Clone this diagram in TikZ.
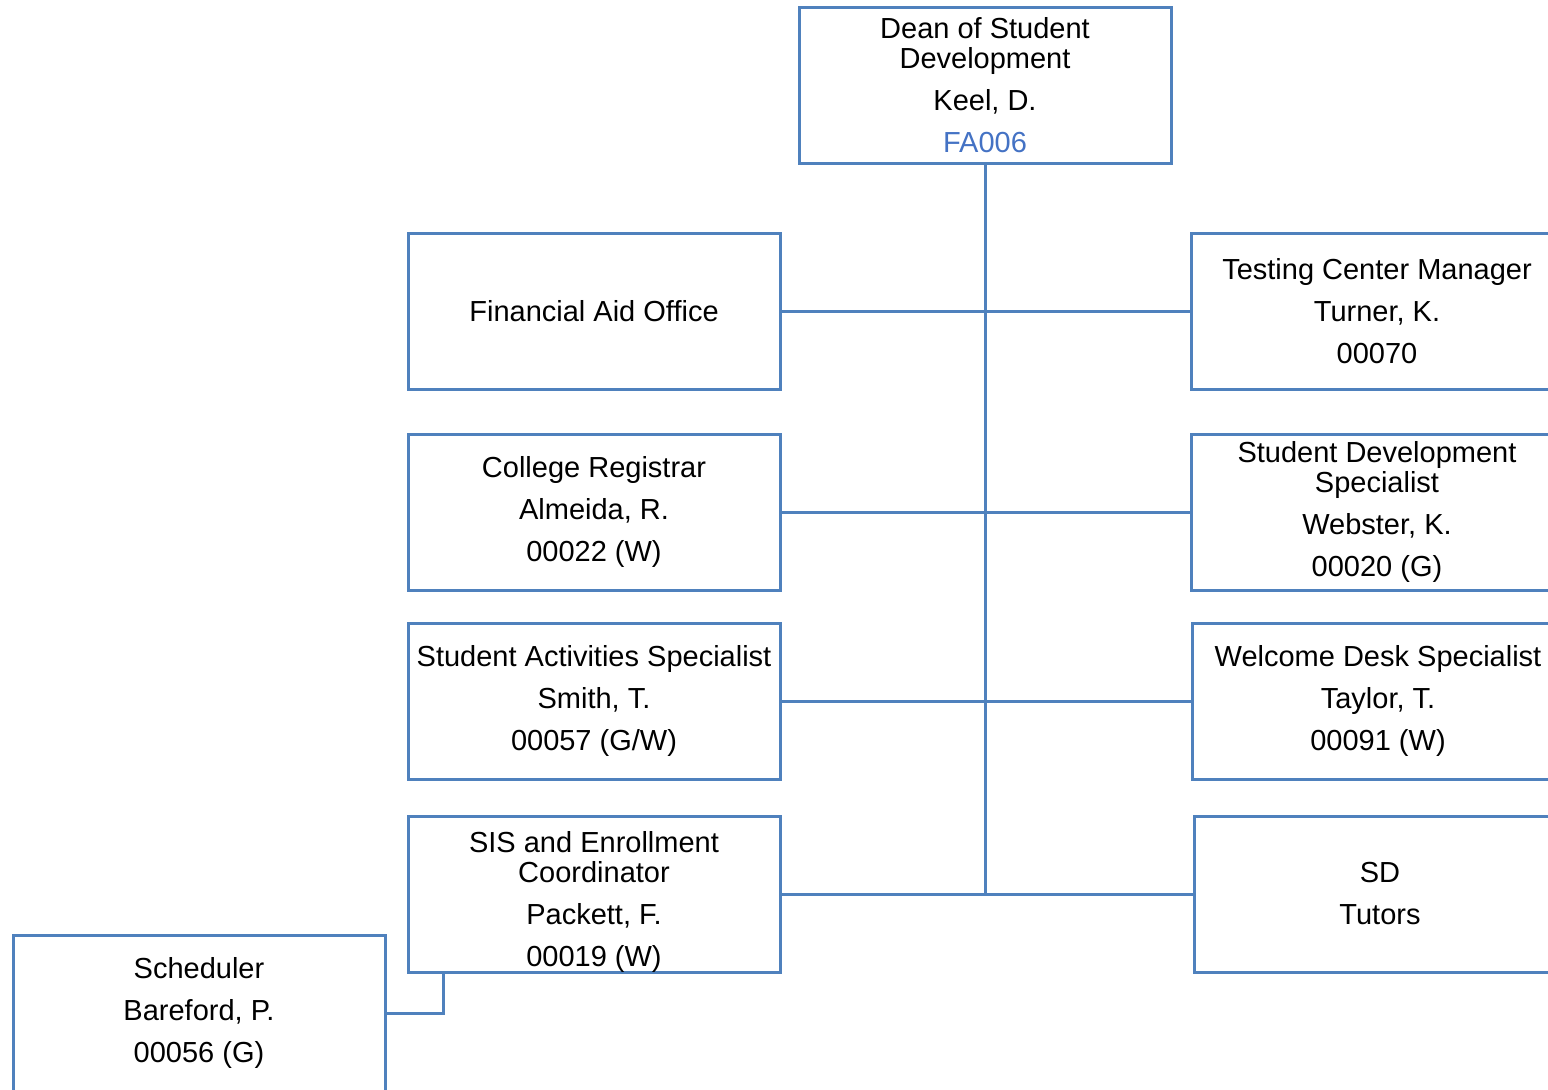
\documentclass[tikz,border=0pt]{standalone}
\usepackage{fontspec}
\setmainfont{Liberation Sans}
\definecolor{boxblue}{RGB}{79,129,189}
\definecolor{codeblue}{RGB}{68,114,196}
\begin{document}
\begin{tikzpicture}[x=1pt,y=-1pt,
  box/.style={draw=boxblue,line width=3pt,rectangle,minimum width=372pt,minimum height=156pt,
    inner sep=2pt,align=center,font=\fontsize{29}{42}\selectfont,text=black},
  txt/.style={align=center,font=\fontsize{29}{42}\selectfont,text=black,inner sep=0pt},
  link/.style={draw=boxblue,line width=3pt}]
\useasboundingbox (0,0) rectangle (1548,1090);
\clip (0,0) rectangle (1548,1090);
% boxes
\node[box] (dean) at (985,85) {Dean of Student\\[-12pt]Development\\Keel, D.\\\textcolor{codeblue}{FA006}};
\node[box] (fa) at (594,311) {Financial Aid Office};
\node[box] (reg) at (594,512) {College Registrar\\Almeida, R.\\00022 (W)};
\node[box] (sa) at (594,701) {Student Activities Specialist\\Smith, T.\\00057 (G/W)};
\node[box] (sis) at (594,894) {};
\node[txt] (sistxt) at ([yshift=-8pt]sis.center) {SIS and Enrollment\\[-12pt]Coordinator\\Packett, F.\\00019 (W)};
\node[box] (sched) at (199,1013) {Scheduler\\Bareford, P.\\00056 (G)};
\node[box] (tc) at (1377,311) {Testing Center Manager\\Turner, K.\\00070};
\node[box] (sds) at (1377,512) {Student Development\\[-12pt]Specialist\\Webster, K.\\00020 (G)};
\node[box] (wd) at (1378,701) {Welcome Desk Specialist\\Taylor, T.\\00091 (W)};
\node[box] (sd) at (1380,894) {SD\\Tutors};
% connectors
\coordinate (trunkend) at (dean.south |- sd.west);
\draw[link] (dean.south) -- (trunkend);
\draw[link] (fa.east) -- (tc.west);
\draw[link] (reg.east) -- (sds.west);
\draw[link] (sa.east) -- (wd.west);
\draw[link] (sis.east) -- (sd.west);
\coordinate (sj) at ([xshift=37pt]sis.south west);
\draw[link] (sj) |- (sched.east);
\end{tikzpicture}
\end{document}
